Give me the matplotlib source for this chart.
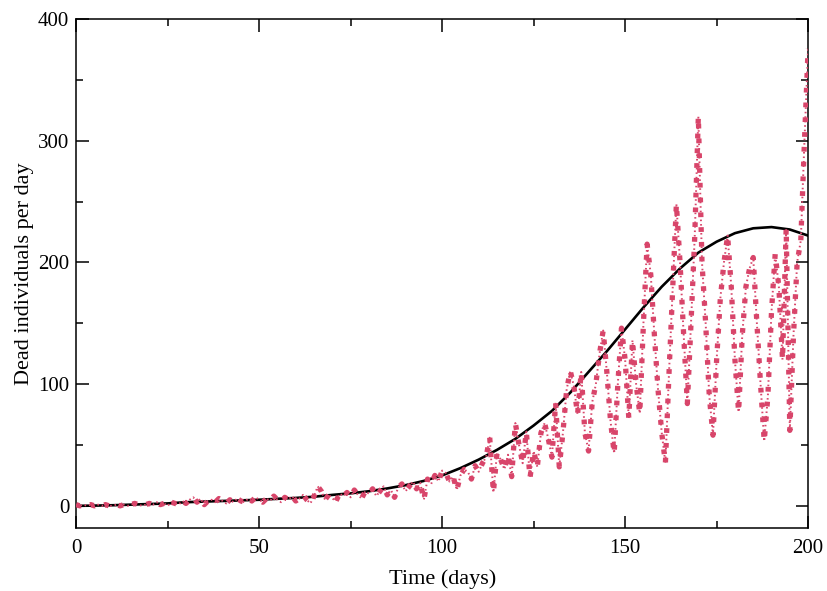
import matplotlib
matplotlib.use("Agg")
import matplotlib.pyplot as plt
import numpy as np
from matplotlib.ticker import MultipleLocator

# daily reported deaths (days 0..200)
deaths = [
    1, 0, 1, 0, 1, 0, 1, 0, 1, 0,
    0, 1, 0, 1, 0, 1, 2, 1, 0, 1,
    2, 1, 3, 1, 2, 0, 3, 2, 1, 4,
    2, 5, 7, 3, 6, 1, 4, 5, 3, 6,
    4, 2, 5, 3, 6, 4, 3, 6, 4, 7,
    5, 3, 6, 4, 8, 5, 3, 7, 5, 8,
    4, 6, 9, 5, 2, 8, 16, 12, 5, 9,
    6, 4, 10, 8, 11, 7, 13, 9, 6, 12,
    10, 14, 8, 12, 16, 9, 13, 7, 15, 18,
    12, 16, 20, 14, 19, 5, 22, 18, 25, 20,
    29, 27, 20, 24, 13, 25, 30, 28, 22, 33,
    28, 35, 40, 56, 11, 44, 38, 30, 42, 24,
    68, 50, 35, 61, 23, 45, 32, 60, 68, 55,
    40, 85, 32, 60, 95, 111, 98, 75, 110, 60,
    45, 85, 100, 125, 144, 110, 70, 43, 100, 146,
    120, 72, 136, 100, 76, 150, 215, 190, 140, 95,
    60, 35, 110, 180, 248, 200, 140, 84, 150, 220,
    320, 200, 150, 90, 58, 120, 170, 200, 222, 180,
    120, 77, 140, 180, 195, 204, 150, 100, 53, 90,
    160, 207, 180, 120, 228, 62, 140, 200, 218, 300,
    376,
]
days = list(range(len(deaths)))

# model curve, read every 5 days
model_days = list(range(0, 201, 5))
model = [
    0, 0.2, 0.5, 1, 1.5, 2, 3, 3.5, 4, 4.5,
    5, 5.8, 6.5, 7.5, 9, 10.3, 12, 14.3, 17, 20.5,
    25, 31, 38, 46, 55, 66, 78, 93, 110, 127,
    145, 163, 180, 195, 208, 217, 224, 228, 229, 227,
    222,
]

red = "#d8456a"

plt.rcParams['font.family'] = ['Liberation Serif', 'DejaVu Serif']

fig = plt.figure(figsize=(8.28, 5.91), dpi=100)
ax = fig.add_axes([0.092, 0.107, 0.884, 0.861])

ax.plot(model_days, model, color="black", lw=1.9, zorder=2)
# thin dotted trace plus sparse thick squares
ax.plot(days, deaths, color=red, lw=1.4, linestyle=(0, (0.8, 1.5)), zorder=3)
ax.plot(days, deaths, color=red, lw=3.8, linestyle=(0, (0.9, 1.9)), zorder=3)

ax.set_xlim(0, 200)
ax.set_ylim(-18, 400)
ax.xaxis.set_major_locator(MultipleLocator(50))
ax.xaxis.set_minor_locator(MultipleLocator(25))
ax.yaxis.set_major_locator(MultipleLocator(100))
ax.yaxis.set_minor_locator(MultipleLocator(50))
ax.tick_params(which="both", direction="in", top=True, right=True,
               labelsize=15, width=1.1, pad=5)
ax.tick_params(axis="x", which="both", pad=8)
ax.tick_params(which="major", length=9)
ax.tick_params(which="minor", length=5)
for s in ax.spines.values():
    s.set_linewidth(1.1)

ax.set_xlabel("Time (days)", fontsize=16, labelpad=8)
ax.set_ylabel("Dead individuals per day", fontsize=16, labelpad=3)

fig.savefig("out.png", dpi=100)
